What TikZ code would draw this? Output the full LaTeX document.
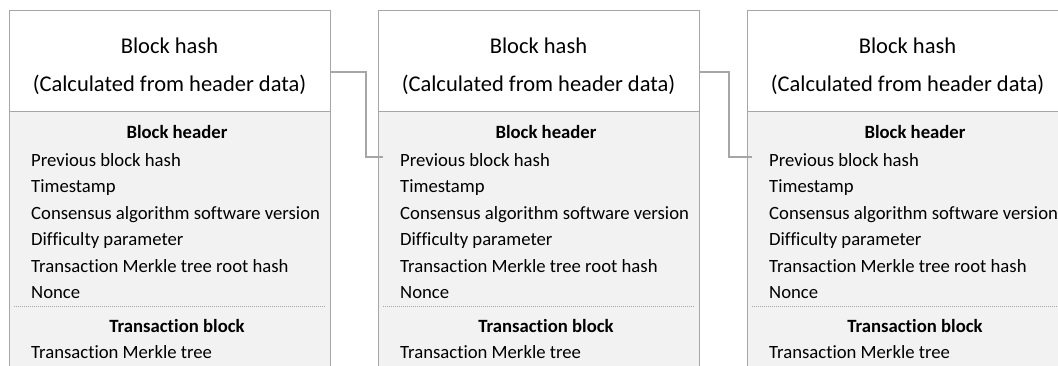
\documentclass[tikz,border=0pt]{standalone}
\usepackage{fontspec}
\setmainfont{Carlito}[Ligatures={NoCommon}]
\definecolor{edge}{HTML}{A6A6A6}
\definecolor{panel}{HTML}{F2F2F2}
\definecolor{ink}{HTML}{000000}
\begin{document}
\begin{tikzpicture}[x=1pt,y=-1pt,
  hashbox/.style={draw=edge,fill=white,line width=1.2pt,minimum width=321pt,minimum height=101pt,inner sep=0pt,anchor=north west},
  bodybox/.style={draw=edge,fill=panel,line width=1.2pt,minimum width=321pt,minimum height=290pt,inner sep=0pt,anchor=north west},
  titletext/.style={font=\fontsize{22.5}{27}\selectfont,text=ink,anchor=base,inner sep=0pt},
  headtext/.style={font=\fontsize{18.7}{22}\selectfont\bfseries,text=ink,anchor=base,inner sep=0pt},
  itemtext/.style={font=\fontsize{18.7}{22}\selectfont,text=ink,anchor=base west,inner sep=0pt},
  sep/.style={draw=edge,line width=0.7pt,dash pattern=on 1pt off 1pt},
  link/.style={draw=edge,line width=1.2pt}]
\clip (0,0) rectangle (1058,365);
\fill[white] (0,0) rectangle (1058,365);
% three chained blocks
\foreach \i/\x in {1/9,2/378,3/747}{
  \node[bodybox] (b\i) at (\x,110) {};
  \node[hashbox] (h\i) at (\x,10) {};
  \node[titletext] (ta\i) at (\x+160.5,53) {Block hash};
  \node[titletext] (tb\i) at (\x+160.5,91) {(Calculated from header data)};
  \node[headtext] (hh\i) at (\x+168,138) {Block header};
  \foreach \t [count=\k] in {Previous block hash,Timestamp,Consensus algorithm software version,Difficulty parameter,Transaction Merkle tree root hash,Nonce}{
    \node[itemtext] (f\i-\k) at (\x+22,166+26.5*\k-26.5) {\t};
  }
  \draw[sep] (\x+5,306) -- (\x+316,306);
  \node[headtext] (th\i) at (\x+168,332) {Transaction block};
  \node[itemtext] (tm\i) at (\x+22,358) {Transaction Merkle tree};
  % link anchors: outgoing from the hash, incoming at the previous-hash field
  \coordinate (o\i) at (\x+321,72);
  \coordinate (e\i) at (\x+5,157);
}
% hash of each block feeds the next block's previous-hash field
\draw[link] (o1) -- ++(36,0) |- (e2);
\draw[link] (o2) -- ++(30,0) |- (e3);
\end{tikzpicture}
\end{document}
